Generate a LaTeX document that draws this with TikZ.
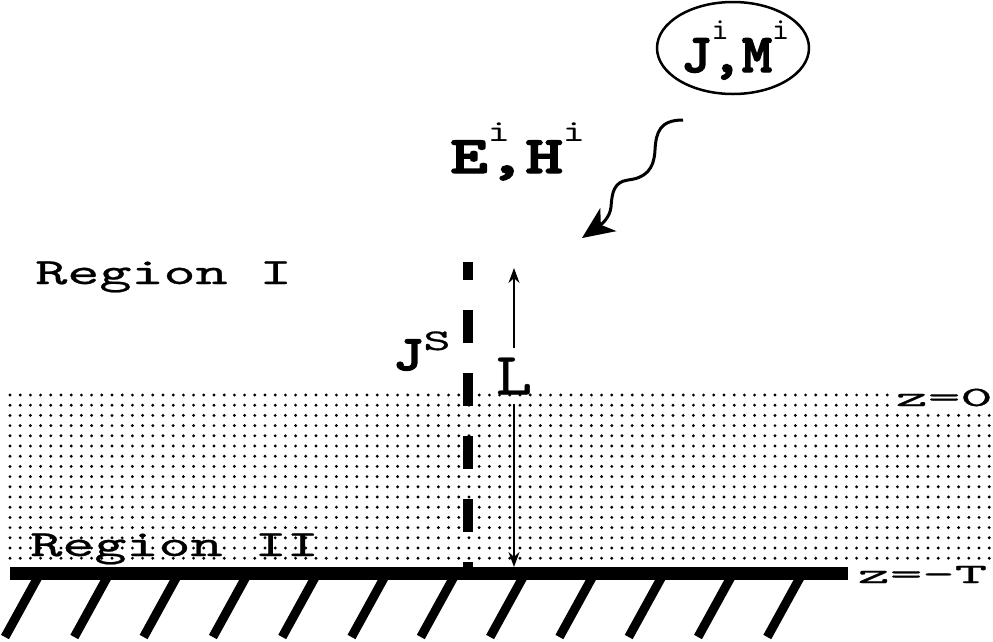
\documentclass[tikz,border=0pt]{standalone}
\usepackage{fontspec}
\usetikzlibrary{positioning, shapes.geometric, arrows.meta}

\newfontfamily\lmtt{lmmono10-regular.otf}
\newfontfamily\lmttm[FakeBold=0.6]{lmmono10-regular.otf}
\newfontfamily\lmttb[FakeBold=2.5]{lmmonolt10-bold.otf}
\newcommand{\supi}[1]{\raisebox{0.6em}{\lmtt\fontsize{#1}{#1}\selectfont i}}
\newcommand{\withsup}[3]{#1\rlap{\supi{#3}},#2\supi{#3}}

\begin{document}
\begin{tikzpicture}[x=1pt, y=-1pt,
    region/.style={font=\lmttm\fontsize{37}{37}\selectfont, inner sep=0pt, xscale=1.65, anchor=base west},
    zlabel/.style={font=\lmttm\fontsize{28}{28}\selectfont, inner sep=1pt, xscale=2.2, anchor=base west, fill=white},
    boldlabel/.style={font=\lmttb\fontsize{#1}{#1}\selectfont, inner sep=0pt},
    dimarrow/.style={-{Stealth[length=15pt, width=11pt]}, line width=1.8pt},
    wave/.style={-{Stealth[length=32pt, width=28pt, inset=9pt]}, line width=3pt},
    hatch/.style={line width=9pt, line cap=butt}]
    \useasboundingbox (0,0) rectangle (993,641);

    % Dotted layer
    \foreach \y in {395,405.2,...,563} {
        \foreach \x in {10,20.2,...,993} {
            \fill (\x,\y) circle (1.6);
        }
    }

    % Ground
    \foreach \i in {0,...,11} {
        \draw[hatch] (38+69.3*\i,577) -- ++(-33,60);
    }
    \coordinate (gl) at (10,573.5);
    \coordinate (gr) at (848,573.5);
    \draw[line width=13pt] (gl) -- (gr);
    \node[zlabel] (zT) at (855,583) {z=-T};
    \node[zlabel] (z0) at (893,406) {z=0};

    % Regions
    \node[region] (regI) at (35,284) {Region I};
    \node[region] (regII) at (30,556) {Region II};

    % Strip current
    \coordinate (stop) at (468,262);
    \coordinate (sbot) at (468,572);
    \draw[line width=10pt, dash pattern=on 33pt off 30pt, dash phase=23pt] (sbot) -- (stop);
    \node[boldlabel=50, anchor=base west, xscale=1.15] (js) at (393,370)
        {J\raisebox{0.4em}{\lmttm\fontsize{30}{30}\selectfont\scalebox{1.5}[1]{S}}};

    % Height L
    \node[font=\lmttm\fontsize{60}{60}\selectfont, xscale=1.15, inner sep=9pt] (L) at (514,376) {L};
    \coordinate (Ltop) at (514,268);
    \coordinate (Lbot) at (514,567);
    \draw[dimarrow] (L.north) -- (Ltop);
    \draw[dimarrow] (L.south) -- (Lbot);

    % Source and incident field
    \node[draw, ellipse, line width=2.5pt, minimum width=152pt, minimum height=92pt,
          inner sep=0pt] (src) at (733,48) {};
    \node[boldlabel=55, anchor=base west, xscale=1.05] (srct) at (681,72) {\withsup{J}{M}{31}};
    \node[boldlabel=53, anchor=base west, xscale=1.35] (inc) at (450,173) {\withsup{E}{H}{31}};
    \coordinate (wstart) at (683,120);
    \coordinate (wtip) at (582,238);
    \draw[wave] (wstart) .. controls (660,120) and (656,132) .. (655,150)
        .. controls (654,170) and (645,178) .. (628,180)
        .. controls (614,182) and (612,192) .. (611,207)
        .. controls (610,217) and (602,224) .. (wtip);

\end{tikzpicture}
\end{document}
